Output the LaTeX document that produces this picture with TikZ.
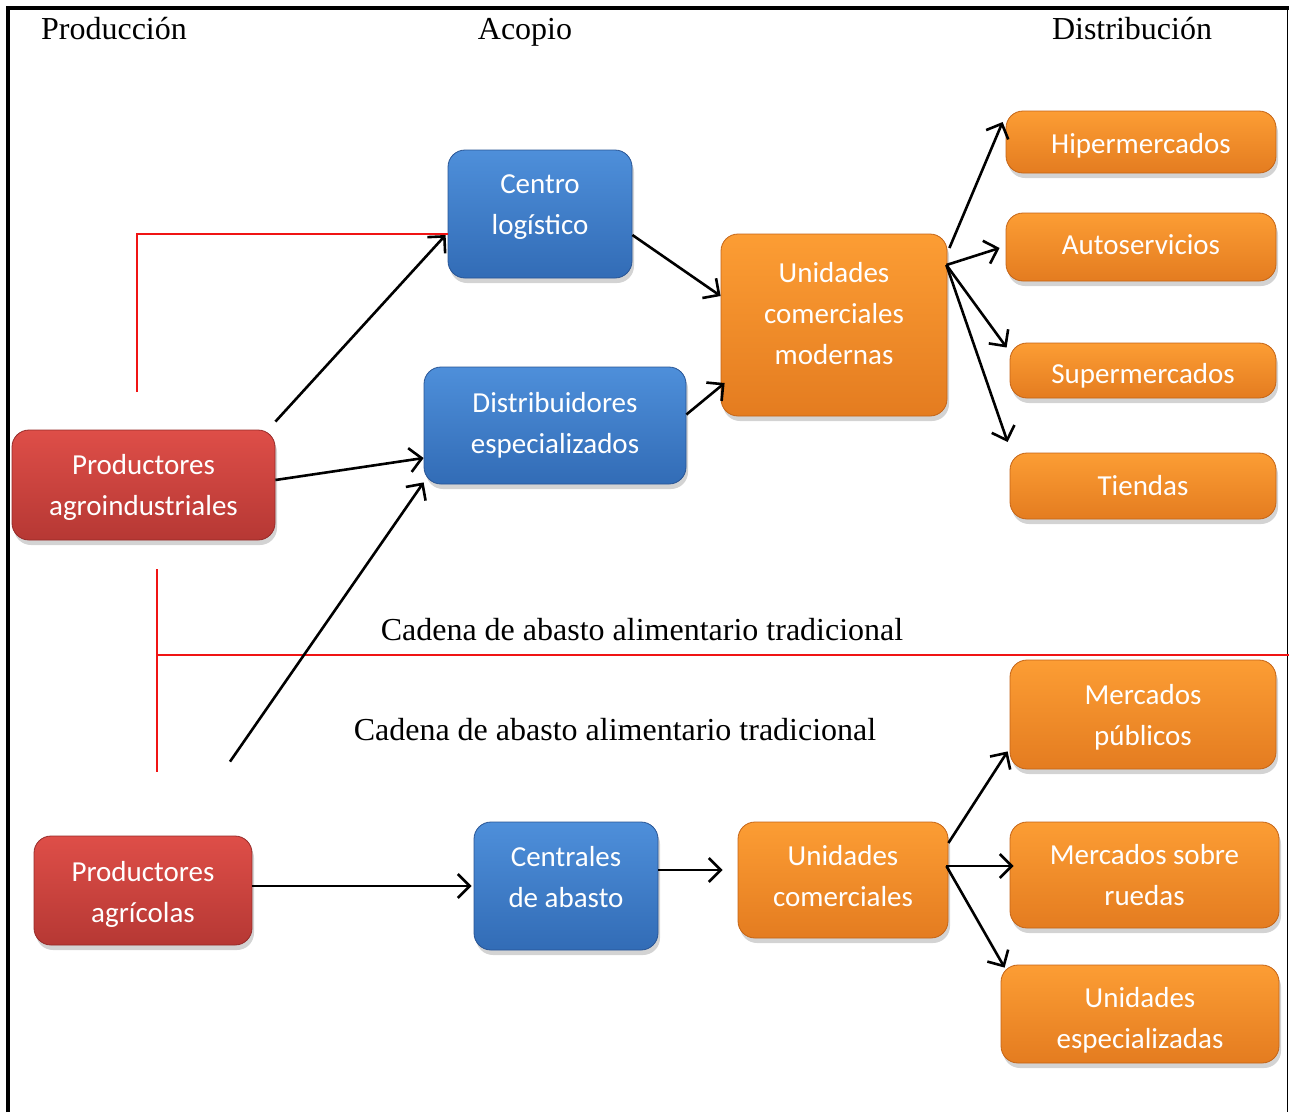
\documentclass[tikz,border=0pt]{standalone}
\usepackage{fontspec}
\setmainfont{Liberation Serif}
\newfontfamily\boxfont{Carlito}
\usetikzlibrary{arrows.meta,shadows,calc}
\definecolor{redT}{RGB}{222,78,72}
\definecolor{redB}{RGB}{182,56,52}
\definecolor{redD}{RGB}{150,42,40}
\definecolor{bluT}{RGB}{78,143,218}
\definecolor{bluB}{RGB}{50,108,182}
\definecolor{bluD}{RGB}{40,84,148}
\definecolor{orgT}{RGB}{252,157,52}
\definecolor{orgB}{RGB}{228,124,32}
\definecolor{orgD}{RGB}{196,100,22}
\definecolor{lineRed}{RGB}{240,20,20}
% invisible struts to nudge text up (depth) or down (height)
\newcommand\dpstrut[1]{\rule[-#1]{0pt}{0pt}}
\newcommand\htstrut[1]{\rule{0pt}{#1}}
\tikzset{
  basebox/.style={rounded corners=17pt, text=white, align=center, inner sep=0pt,
    font=\boxfont\fontsize{29}{41}\selectfont, line width=0.8pt,
    drop shadow={opacity=0.35, shadow xshift=2pt, shadow yshift=-5pt}},
  redbox/.style={basebox, draw=redD, top color=redT, bottom color=redB},
  bluebox/.style={basebox, draw=bluD, top color=bluT, bottom color=bluB},
  orgbox/.style={basebox, draw=orgD, top color=orgT, bottom color=orgB},
  arr/.style={line width=2.6pt, -{Straight Barb[length=12pt,width=24pt]}},
  redline/.style={lineRed, line width=1.6pt},
  head/.style={font=\fontsize{32}{38}\selectfont, anchor=base, inner sep=0pt}
}
\begin{document}
\begin{tikzpicture}[x=1pt,y=-1pt]
\useasboundingbox (0,0) rectangle (1289,1112);
% frame
\draw[line width=3.5pt] (8,1112) -- (8,8) -- (1289,8);
\draw[line width=1.6pt] (1287.5,8) -- (1287.5,1112);
% headings
\node[head] (h1) at (114,39) {Producción};
\node[head] (h2) at (525,39) {Acopio};
\node[head] (h3) at (1132,39) {Distribución};
\node[head] (c1) at (642,640) {Cadena de abasto alimentario tradicional};
\node[head] (c2) at (615,740) {Cadena de abasto alimentario tradicional};
% boxes
\node[redbox, minimum width=263pt, minimum height=110pt] (pa) at (143.5,485) {\htstrut{25pt}Productores\\agroindustriales};
\node[bluebox, minimum width=184pt, minimum height=128pt] (cl) at (540,214) {Centro\\logístico\dpstrut{18pt}};
\node[bluebox, minimum width=262pt, minimum height=117pt] (de) at (555,425.5) {Distribuidores\\especializados};
\node[orgbox, minimum width=226pt, minimum height=182pt] (ucm) at (834,325) {Unidades\\comerciales\\modernas\dpstrut{24pt}};
\node[orgbox, minimum width=270pt, minimum height=62pt] (hi) at (1141,142) {\htstrut{27pt}Hipermercados};
\node[orgbox, minimum width=270pt, minimum height=68pt] (au) at (1141,247) {Autoservicios\dpstrut{4pt}};
\node[orgbox, minimum width=266pt, minimum height=55pt] (su) at (1143,370.5) {\htstrut{31pt}Supermercados};
\node[orgbox, minimum width=266pt, minimum height=66pt] (ti) at (1143,486) {Tiendas};
\node[orgbox, minimum width=266pt, minimum height=109pt] (mp) at (1143,714.5) {\htstrut{25pt}Mercados\\públicos};
\node[orgbox, minimum width=269pt, minimum height=106pt] (mr) at (1144.5,875) {Mercados sobre\\ruedas};
\node[orgbox, minimum width=278pt, minimum height=98pt] (ue) at (1140,1014) {\htstrut{33pt}Unidades\\especializadas};
\node[redbox, minimum width=218pt, minimum height=109pt] (pg) at (143,890.5) {\htstrut{27pt}Productores\\agrícolas};
\node[bluebox, minimum width=184pt, minimum height=128pt] (ca) at (566,886) {Centrales\\de abasto\dpstrut{18pt}};
\node[orgbox, minimum width=210pt, minimum height=116pt] (uc) at (843,880) {Unidades\\comerciales\dpstrut{8pt}};
% red lines
\coordinate (r1) at (137,392);
\coordinate (r2) at (137,234);
\draw[redline] (r1) -- (r2) -- ($(cl.west)+(0,20)$);
\coordinate (r3) at (157,569);
\coordinate (r4) at (157,772);
\coordinate (r5) at (157,655);
\coordinate (r6) at (1289,655);
\draw[redline] (r3) -- (r4);
\draw[redline] (r5) -- (r6);
% arrows
\draw[arr] ($(pa.north east)+(0,-8)$) -- ($(cl.west)+(-2,21)$);
\draw[arr] ($(pa.east)+(0,-5)$) -- ($(de.west)+(0,32.5)$);
\draw[arr] ($(pg.north)+(87,-74)$) -- ($(de.south west)+(0,-2)$);
\draw[arr] ($(cl.east)+(0,21)$) -- ($(ucm.west)+(0,-29)$);
\draw[arr] ($(de.east)+(0,-11)$) -- ($(ucm.west)+(4,58)$);
\coordinate (ucmout) at ($(ucm.east)+(-1,-60)$);
\draw[arr] ($(ucm.east)+(2,-77)$) -- ($(hi.west)+(-3,-20)$);
\draw[arr] (ucmout) -- ($(au.west)+(-6,1)$);
\draw[arr] (ucmout) -- ($(su.west)+(-3,-23)$);
\draw[arr] (ucmout) -- ($(ti.west)+(-2,-44)$);
\draw[arr] ($(pg.east)+(0,-4.5)$) -- ($(ca.west)+(-2,0)$);
\draw[arr] ($(ca.east)+(0,-16)$) -- ($(uc.west)+(-15,-10)$);
\coordinate (ucout) at ($(uc.east)+(-2,-14)$);
\draw[arr] ($(uc.east)+(0,-37)$) -- ($(mp.south west)+(-2,-18)$);
\draw[arr] (ucout) -- ($(mr.west)+(4,-9)$);
\draw[arr] (ucout) -- ($(ue.north west)+(4,3)$);
\end{tikzpicture}
\end{document}
